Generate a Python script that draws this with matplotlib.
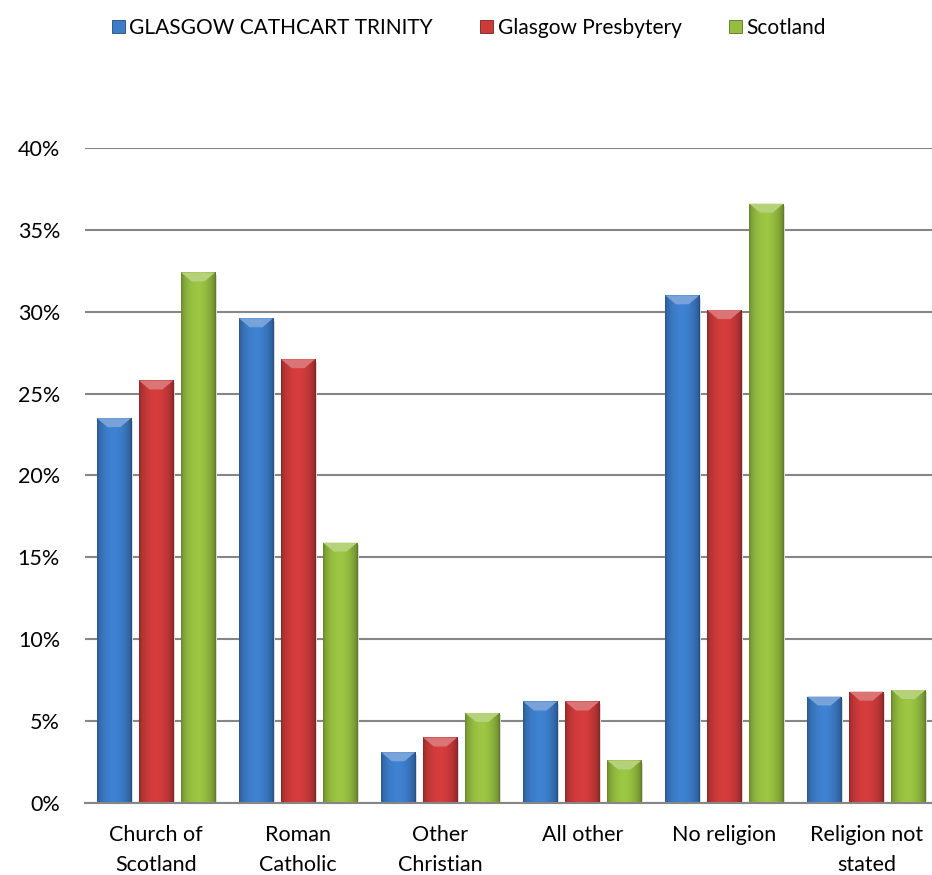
import numpy as np
import matplotlib
matplotlib.use("Agg")
import matplotlib.pyplot as plt
from matplotlib.patches import Polygon, Rectangle
from matplotlib.colors import to_rgb

plt.rcParams['font.family'] = ['Lato', 'DejaVu Sans']

categories = ["Church of\nScotland", "Roman\nCatholic", "Other\nChristian",
              "All other", "No religion", "Religion not\nstated"]
series = ["GLASGOW CATHCART TRINITY", "Glasgow Presbytery", "Scotland"]
cathcart = [23.5, 29.6, 3.1, 6.2, 31.0, 6.5]
presbytery = [25.8, 27.1, 4.0, 6.2, 30.1, 6.8]
scotland = [32.4, 15.9, 5.5, 2.6, 36.6, 6.9]
yticks = [0, 5, 10, 15, 20, 25, 30, 35, 40]

colors = ["#3c7cc8", "#cc3a3a", "#95bd40"]
BAR_W = 0.24
STEP = 0.296
BEVEL_X = 0.075  # top facet inset (category units)
BEVEL_Y = 0.55   # top facet height (percent units)


def shade(c, f):
    r = np.array(to_rgb(c))
    return tuple(np.clip(r * f if f < 1 else r + (1 - r) * (f - 1), 0, 1))


def bevel_bar(ax, patch, color):
    x0, y0 = patch.get_x(), patch.get_y()
    w, h = patch.get_width(), patch.get_height()
    patch.set_facecolor("none")
    # horizontal gradient: dark edges, lighter middle
    t = np.linspace(0, 1, 64)
    prof = 0.68 + 0.37 * np.sin(np.pi * t) ** 0.5
    prof[t > 0.55] -= 0.06 * (t[t > 0.55] - 0.55) / 0.45
    base = np.array(to_rgb(color))
    img = np.clip(base[None, None, :] * prof[None, :, None], 0, 1)
    im = ax.imshow(img, extent=[x0, x0 + w, y0, y0 + h], aspect="auto",
                   interpolation="bilinear", zorder=2)
    im.set_clip_path(patch)
    bh = min(BEVEL_Y, h * 0.5)
    top = Polygon([[x0, h], [x0 + w, h], [x0 + w - BEVEL_X, h - bh], [x0 + BEVEL_X, h - bh]],
                  closed=True, facecolor=shade(color, 1.3), edgecolor="none", zorder=3)
    ax.add_patch(top)
    # soft shadow to the right
    ax.add_patch(Rectangle((x0 + w, y0), 0.012, h - 0.15, facecolor="#d9d9d9",
                           edgecolor="none", zorder=1.5))


fig = plt.figure(figsize=(9.32, 8.75), dpi=100)
ax = fig.add_axes([0.0912, 0.0823, 0.9146, 0.7486])

x = np.arange(len(categories))
handles = []
for i, (vals, col) in enumerate(zip([cathcart, presbytery, scotland], colors)):
    bars = ax.bar(x + (i - 1) * STEP, vals, BAR_W, color=col,
                  edgecolor=shade(col, 0.6), linewidth=0.6, zorder=2)
    for p in bars:
        bevel_bar(ax, p, col)
    handles.append(Rectangle((0, 0), 1, 1, facecolor=col, edgecolor=shade(col, 0.6), linewidth=0.6))

ax.set_xlim(-0.5, len(categories) - 0.5)
ax.set_ylim(0, 40)
ax.set_yticks(yticks)
ax.set_yticklabels([f"{v}%" for v in yticks], fontsize=15.5)
ax.set_xticks(x)
ax.set_xticklabels(categories, fontsize=15.5, linespacing=1.6)
ax.tick_params(axis="y", length=0, pad=18)
ax.tick_params(axis="x", length=0, pad=16)
ax.yaxis.grid(True, color="#868686", linewidth=1.5, zorder=0)
ax.set_axisbelow(True)
for s in ["top", "right", "left"]:
    ax.spines[s].set_visible(False)
ax.spines["bottom"].set_color("#868686")
ax.spines["bottom"].set_linewidth(1.5)

fig.legend(handles, series, loc="upper left", bbox_to_anchor=(0.101, 1.0), ncol=3,
           frameon=False, fontsize=15, handlelength=0.62, handleheight=0.62,
           handletextpad=0.2, columnspacing=2.3, borderaxespad=0.45)

fig.savefig("out.png", dpi=100)
